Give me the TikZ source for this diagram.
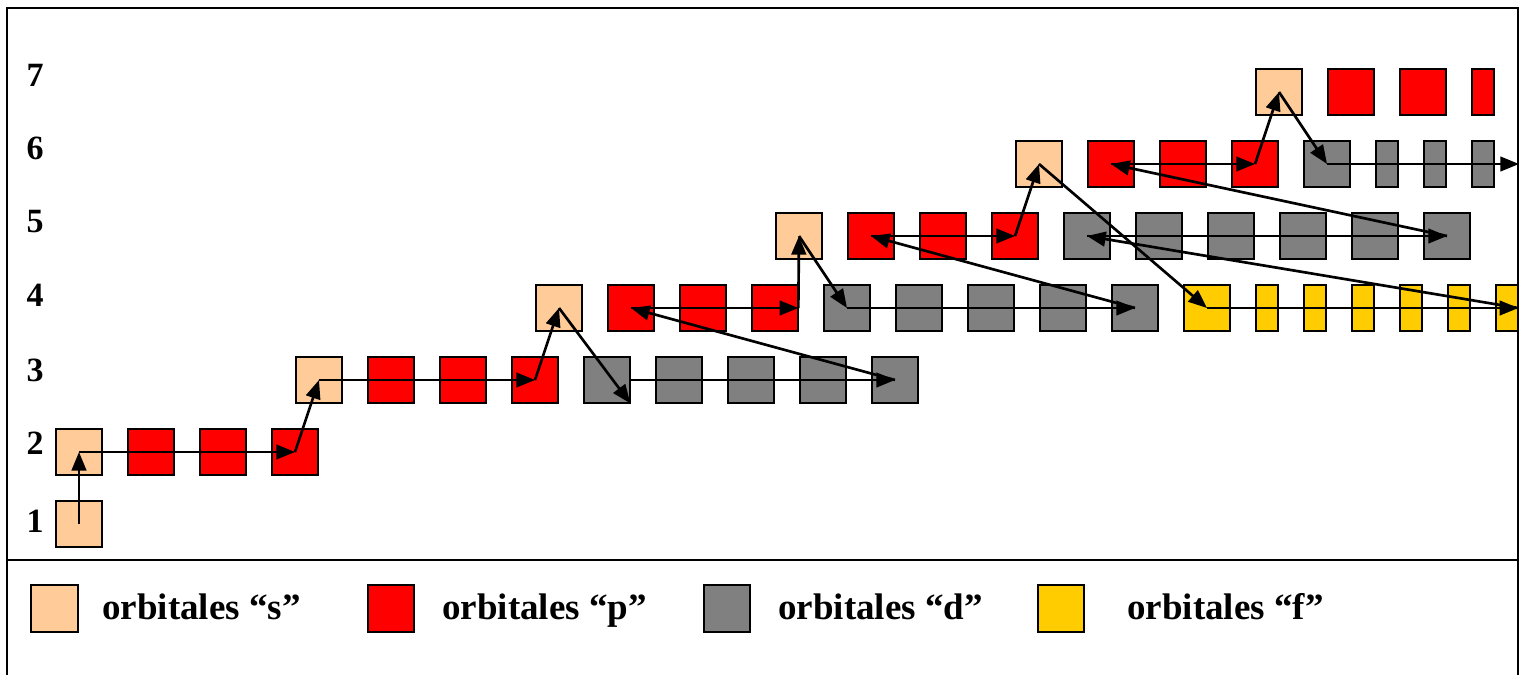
\documentclass[tikz,border=0pt]{standalone}
\usepackage{fontspec}
\setmainfont{Liberation Serif}
\usetikzlibrary{arrows.meta}
\definecolor{sorb}{HTML}{FFCC99}
\definecolor{porb}{HTML}{FF0000}
\definecolor{dorb}{HTML}{808080}
\definecolor{forb}{HTML}{FFCC00}
\tikzset{
  orb/.style={draw=black, line width=1.6pt, minimum width=35pt, minimum height=35pt, inner sep=0pt, outer sep=0pt},
  narrow/.style={minimum width=17pt},
  sbox/.style={orb, fill=sorb},
  pbox/.style={orb, fill=porb},
  dbox/.style={orb, fill=dorb},
  fbox/.style={orb, fill=forb},
  arr/.style={-{Triangle[length=14pt,width=11pt]}, line width=2pt},
  harr/.style={arr, line width=1.6pt},
  lbl/.style={font=\fontsize{25.5pt}{30pt}\selectfont\bfseries, inner sep=0pt},
  leg/.style={font=\fontsize{27.75pt}{32pt}\selectfont\bfseries, inner sep=0pt, anchor=base west},
  frame/.style={line width=1.7pt}
}
\begin{document}
\begin{tikzpicture}[x=0.75pt,y=-0.75pt]
\useasboundingbox[fill=white] (0,0) rectangle (1521,675);

% row labels
\node[lbl] (l7) at (35,75) {7};
\node[lbl] (l6) at (35,148) {6};
\node[lbl] (l5) at (35,222) {5};
\node[lbl] (l4) at (35,295) {4};
\node[lbl] (l3) at (35,370) {3};
\node[lbl] (l2) at (35,443) {2};
\node[lbl] (l1) at (35,521) {1};

% row 1
\node[sbox] (s1) at (79,524) {};
% row 2
\node[sbox] (s2) at (79,452) {};
\node[pbox] (p2a) at (151,452) {};
\node[pbox] (p2b) at (223,452) {};
\node[pbox] (p2c) at (295,452) {};
% row 3
\node[sbox] (s3) at (319,380) {};
\node[pbox] (p3a) at (391,380) {};
\node[pbox] (p3b) at (463,380) {};
\node[pbox] (p3c) at (535,380) {};
\node[dbox] (d3a) at (607,380) {};
\node[dbox] (d3b) at (679,380) {};
\node[dbox] (d3c) at (751,380) {};
\node[dbox] (d3d) at (823,380) {};
\node[dbox] (d3e) at (895,380) {};
% row 4
\node[sbox] (s4) at (559,308) {};
\node[pbox] (p4a) at (631,308) {};
\node[pbox] (p4b) at (703,308) {};
\node[pbox] (p4c) at (775,308) {};
\node[dbox] (d4a) at (847,308) {};
\node[dbox] (d4b) at (919,308) {};
\node[dbox] (d4c) at (991,308) {};
\node[dbox] (d4d) at (1063,308) {};
\node[dbox] (d4e) at (1135,308) {};
\node[fbox] (f4a) at (1207,308) {};
\node[fbox,narrow] (f4b) at (1267,308) {};
\node[fbox,narrow] (f4c) at (1315,308) {};
\node[fbox,narrow] (f4d) at (1363,308) {};
\node[fbox,narrow] (f4e) at (1411,308) {};
\node[fbox,narrow] (f4f) at (1459,308) {};
\node[fbox,narrow] (f4g) at (1507,308) {};
% row 5
\node[sbox] (s5) at (799,236) {};
\node[pbox] (p5a) at (871,236) {};
\node[pbox] (p5b) at (943,236) {};
\node[pbox] (p5c) at (1015,236) {};
\node[dbox] (d5a) at (1087,236) {};
\node[dbox] (d5b) at (1159,236) {};
\node[dbox] (d5c) at (1231,236) {};
\node[dbox] (d5d) at (1303,236) {};
\node[dbox] (d5e) at (1375,236) {};
\node[dbox] (d5f) at (1447,236) {};
% row 6
\node[sbox] (s6) at (1039,164) {};
\node[pbox] (p6a) at (1111,164) {};
\node[pbox] (p6b) at (1183,164) {};
\node[pbox] (p6c) at (1255,164) {};
\node[dbox] (d6a) at (1327,164) {};
\node[dbox,narrow] (d6b) at (1387,164) {};
\node[dbox,narrow] (d6c) at (1435,164) {};
\node[dbox,narrow] (d6d) at (1483,164) {};
\coordinate (e6) at (1519,164);
% row 7
\node[sbox] (s7) at (1279,92) {};
\node[pbox] (p7a) at (1351,92) {};
\node[pbox] (p7b) at (1423,92) {};
\node[pbox,narrow] (p7c) at (1483,92) {};

% arrows
\draw[arr] (s1.center) -- (s2.center);
\draw[harr] (s2.center) -- (p2c.center);
\draw[arr] (p2c.center) -- (s3.center);
\draw[harr] (s3.center) -- (p3c.center);
\draw[arr] (p3c.center) -- (s4.center);
\draw[arr] (s4.center) -- (d3a.south east);
\draw[harr] (d3a.east) -- (d3e.center);
\draw[arr] (d3e.center) -- (p4a.center);
\draw[harr] (p4a.center) -- (p4c.east);
\draw[arr] (p4c.east) -- (s5.center);
\draw[arr] (s5.center) -- (d4a.center);
\draw[harr] (d4a.center) -- (d4e.center);
\draw[arr] (d4e.center) -- (p5a.center);
\draw[harr] (p5a.center) -- (p5c.center);
\draw[arr] (p5c.center) -- (s6.center);
\draw[arr] (s6.center) -- (f4a.center);
\draw[harr] (f4a.center) -- (f4g.east);
\draw[arr] (f4g.east) -- (d5a.center);
\draw[harr] (d5a.center) -- (d5f.center);
\draw[arr] (d5f.center) -- (p6a.center);
\draw[harr] (p6a.center) -- (p6c.center);
\draw[arr] (p6c.center) -- (s7.center);
\draw[arr] (s7.center) -- (d6a.center);
\draw[harr] (d6a.center) -- (e6);

% frame
\draw[frame] (7,675) -- (7,8) -- (1518,8) -- (1518,675);
\draw[frame] (7,560) -- (1518,560);

% legend
\node[sbox] (ls) at (54.5,608.5) {};
\node[leg] (ts) at (102,619) {orbitales “s”};
\node[pbox] (lp) at (391,608.5) {};
\node[leg] (tp) at (442,619) {orbitales “p”};
\node[dbox] (ld) at (727,608.5) {};
\node[leg] (td) at (778,619) {orbitales “d”};
\node[fbox] (lf) at (1061,608.5) {};
\node[leg] (tf) at (1127,619) {orbitales “f”};
\end{tikzpicture}
\end{document}
